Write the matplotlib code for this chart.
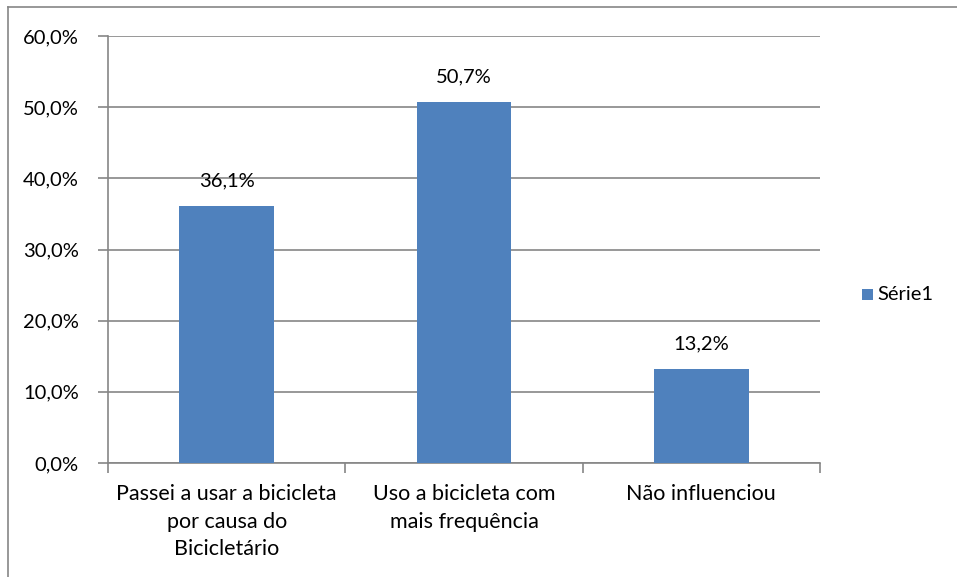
import matplotlib
matplotlib.use("Agg")
import matplotlib.pyplot as plt
import matplotlib.patches as patches
from matplotlib.lines import Line2D

# data
categories = ["Passei a usar a bicicleta\npor causa do\nBicicletário",
              "Uso a bicicleta com\nmais frequência",
              "Não influenciou"]
values = [36.1, 50.7, 13.2]
series_name = "Série1"
yticks = [0, 10, 20, 30, 40, 50, 60]

BAR = "#4F81BD"
GRID = "#868686"
W, H = 957, 577
FS = 14.5

plt.rcParams['font.family'] = ['Lato', 'DejaVu Sans']

fig = plt.figure(figsize=(W / 100, H / 100), dpi=100)
ax = fig.add_axes([108 / W, 1 - 463 / H, (820 - 108) / W, (463 - 36) / H])

x = list(range(len(categories)))
ax.bar(x, values, width=0.4, color=BAR, zorder=3)
for xi, v in zip(x, values):
    ax.text(xi, v + 3.6, f"{v:.1f}%".replace(".", ","), ha="center", va="center",
            fontsize=FS, color="black")

ax.set_xlim(-0.5, len(categories) - 0.5)
ax.set_ylim(0, 60)
ax.set_yticks(yticks)
ax.set_yticklabels([f"{t:.1f}%".replace(".", ",") for t in yticks], fontsize=FS)
ax.yaxis.grid(True, color=GRID, linewidth=1.2, zorder=0)
ax.tick_params(axis="y", length=7, width=1.2, color=GRID, pad=14)

# category ticks sit between the bars
ax.set_xticks([i - 0.5 for i in range(len(categories) + 1)])
ax.set_xticklabels([])
ax.tick_params(axis="x", length=7, width=1.2, color=GRID)
for xi, lab in zip(x, categories):
    ax.text(xi, -0.05, lab, transform=ax.get_xaxis_transform(), ha="center", va="top",
            fontsize=15.5, linespacing=1.45)

for side in ["top", "right"]:
    ax.spines[side].set_visible(False)
for side in ["left", "bottom"]:
    ax.spines[side].set_color(GRID)
    ax.spines[side].set_linewidth(1.2)

# legend
fig.patches.append(patches.Rectangle((862 / W, 1 - 300 / H), 11 / W, 11 / H,
                                     facecolor=BAR, transform=fig.transFigure))
fig.text(877 / W, 1 - 295 / H, series_name, fontsize=FS, va="center", ha="left")

# chart border (only top and left edge visible)
fig.lines.append(Line2D([8 / W, 1], [1 - 6.5 / H, 1 - 6.5 / H], color=GRID,
                        linewidth=1.2, transform=fig.transFigure))
fig.lines.append(Line2D([8 / W, 8 / W], [0, 1 - 6.5 / H], color=GRID,
                        linewidth=1.2, transform=fig.transFigure))

fig.savefig("out.png", dpi=100)
